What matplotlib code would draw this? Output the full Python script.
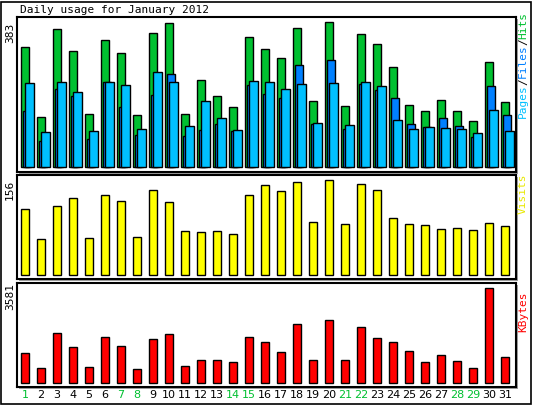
import matplotlib.pyplot as plt
from matplotlib.patches import Rectangle

days = list(range(1, 32))
weekend_days = [1, 7, 8, 14, 15, 21, 22, 28, 29]

hits = [317, 132, 365, 306, 140, 335, 301, 137, 354, 380, 140, 230, 188, 158, 343, 312,
        288, 367, 174, 383, 161, 351, 325, 264, 164, 148, 177, 148, 122, 277, 172]
files = [148, 69, 206, 188, 74, 224, 158, 85, 190, 246, 82, 98, 114, 95, 217, 193,
         182, 269, 114, 283, 100, 219, 203, 182, 114, 106, 129, 108, 79, 214, 137]
pages = [222, 92, 224, 198, 95, 224, 217, 100, 251, 224, 108, 174, 129, 98, 227, 224,
         206, 219, 116, 222, 111, 224, 214, 124, 100, 106, 103, 100, 90, 151, 95]
visits = [108, 59, 113, 126, 61, 131, 121, 62, 140, 120, 72, 71, 72, 67, 131, 148,
          138, 153, 87, 156, 84, 149, 140, 94, 84, 82, 76, 77, 74, 85, 80]
kbytes = [1131, 578, 1885, 1357, 603, 1734, 1395, 528, 1659, 1847, 641, 867, 867, 792, 1734, 1545,
          1168, 2224, 867, 2375, 867, 2111, 1696, 1545, 1206, 792, 1055, 829, 565, 3581, 980]

C_HITS = '#00C030'
C_FILES = '#0080FF'
C_PAGES = '#00C0FF'
C_VISITS = '#FFFF00'
C_KBYTES = '#FF0000'

W, H = 533, 405
fig = plt.figure(figsize=(W / 100, H / 100), dpi=100)
fig.patch.set_facecolor('white')
mono = 'DejaVu Sans Mono'

# outer border
fig.patches.append(Rectangle((1 / W, 1 / H), 1 - 3 / W, 1 - 3 / H, transform=fig.transFigure,
                             fill=False, edgecolor='black', lw=1.2))


def panel(top, bottom, ymax, pad_lo, pad_hi):
    ax = fig.add_axes([17 / W, 1 - bottom / H, (516 - 17) / W, (bottom - top) / H])
    ax.set_xlim(0.75, 31.94)
    ax.set_ylim(-pad_lo, ymax + pad_hi)
    ax.set_xticks([])
    ax.set_yticks([])
    for s in ax.spines.values():
        s.set_linewidth(1.5)
    # grey shadow
    fig.patches.append(Rectangle((19 / W, 1 - (bottom + 2) / H), (516 - 17) / W, (bottom - top) / H,
                                 transform=fig.transFigure, facecolor='#a0a0a0',
                                 edgecolor='none', zorder=-1))
    return ax


bw = 0.5
ax1 = panel(17, 172, 383, 13, 13)
ax1.bar(days, hits, width=bw, align='edge', color=C_HITS, edgecolor='black', lw=1)
ax1.bar([d + 0.125 for d in days], files, width=bw, align='edge', color=C_FILES, edgecolor='black', lw=1)
ax1.bar([d + 0.25 for d in days], pages, width=bw + 0.06, align='edge', color=C_PAGES, edgecolor='black', lw=1)

ax2 = panel(175, 279, 156, 6.6, 8)
ax2.bar(days, visits, width=bw, align='edge', color=C_VISITS, edgecolor='black', lw=1)

ax3 = panel(283, 387, 3581, 139, 200)
ax3.bar(days, kbytes, width=bw, align='edge', color=C_KBYTES, edgecolor='black', lw=1)

fig.text(20 / W, 1 - 10 / H, 'Daily usage for January 2012', family=mono, fontsize=8,
         va='center', ha='left')

# max labels on the left
for y, lab in [(33, '383'), (190, '156'), (297, '3581')]:
    fig.text(10 / W, 1 - y / H, lab, family=mono, fontsize=8, rotation=90,
             va='center', ha='center')

# right side legends
parts = [('Pages', C_PAGES), ('/', 'black'), ('Files', C_FILES), ('/', 'black'), ('Hits', C_HITS)]
y = 118
for txt, col in parts:
    fig.text(523 / W, 1 - y / H, txt, family=mono, fontsize=8, rotation=90, color=col,
             va='bottom', ha='center')
    y -= len(txt) * 6.6
fig.text(523 / W, 1 - 214 / H, 'Visits', family=mono, fontsize=8, rotation=90,
         color='#E8E800', va='bottom', ha='center')
fig.text(523 / W, 1 - 332 / H, 'KBytes', family=mono, fontsize=8, rotation=90,
         color=C_KBYTES, va='bottom', ha='center')

# day labels
for d in days:
    col = C_HITS if d in weekend_days else 'black'
    ax3.text(d + bw / 2, -0.03, str(d), transform=ax3.get_xaxis_transform(),
             ha='center', va='top', fontsize=8, color=col)

fig.savefig('out.png', dpi=100)
